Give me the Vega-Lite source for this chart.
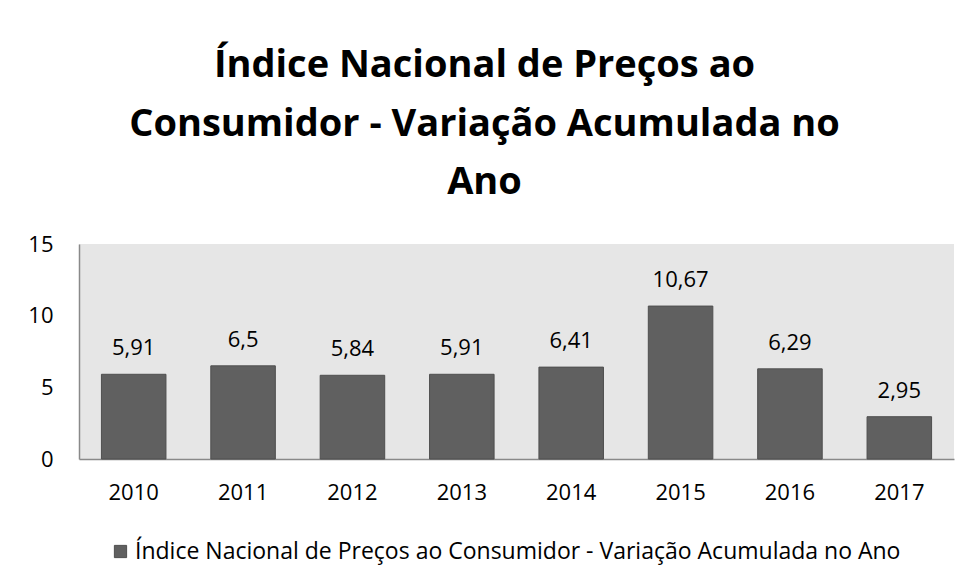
{
  "$schema": "https://vega.github.io/schema/vega-lite/v6.json",
  "autosize": "none",
  "width": 875,
  "height": 215,
  "padding": {"left": 79, "top": 244, "right": 15, "bottom": 125},
  "background": "white",
  "title": {
    "text": ["Índice Nacional de Preços ao", "Consumidor - Variação Acumulada no", "Ano"],
    "fontSize": 38,
    "font": "Open Sans",
    "fontWeight": "bold",
    "lineHeight": 58.5,
    "anchor": "middle",
    "dx": -32,
    "offset": 31,
    "color": "#000000"
  },
  "data": {
    "values": [
      {"ano": "2010", "valor": 5.91, "rotulo": "5,91", "serie": "Índice Nacional de Preços ao Consumidor - Variação Acumulada no Ano"},
      {"ano": "2011", "valor": 6.5, "rotulo": "6,5", "serie": "Índice Nacional de Preços ao Consumidor - Variação Acumulada no Ano"},
      {"ano": "2012", "valor": 5.84, "rotulo": "5,84", "serie": "Índice Nacional de Preços ao Consumidor - Variação Acumulada no Ano"},
      {"ano": "2013", "valor": 5.91, "rotulo": "5,91", "serie": "Índice Nacional de Preços ao Consumidor - Variação Acumulada no Ano"},
      {"ano": "2014", "valor": 6.41, "rotulo": "6,41", "serie": "Índice Nacional de Preços ao Consumidor - Variação Acumulada no Ano"},
      {"ano": "2015", "valor": 10.67, "rotulo": "10,67", "serie": "Índice Nacional de Preços ao Consumidor - Variação Acumulada no Ano"},
      {"ano": "2016", "valor": 6.29, "rotulo": "6,29", "serie": "Índice Nacional de Preços ao Consumidor - Variação Acumulada no Ano"},
      {"ano": "2017", "valor": 2.95, "rotulo": "2,95", "serie": "Índice Nacional de Preços ao Consumidor - Variação Acumulada no Ano"}
    ]
  },
  "encoding": {
    "x": {
      "field": "ano",
      "type": "nominal",
      "sort": null,
      "title": null,
      "scale": {"paddingInner": 0.41, "paddingOuter": 0.205},
      "axis": {
        "labelAngle": 0,
        "labelFontSize": 22,
        "labelFont": "Open Sans",
        "labelColor": "#000000",
        "labelPadding": 23,
        "ticks": false,
        "domainColor": "#898989",
        "domainWidth": 1.5
      }
    },
    "y": {
      "field": "valor",
      "type": "quantitative",
      "title": null,
      "scale": {"domain": [0, 15]},
      "axis": {
        "values": [0, 5, 10, 15],
        "labelFontSize": 22,
        "labelFont": "Open Sans",
        "labelColor": "#000000",
        "labelPadding": 26,
        "ticks": false,
        "grid": false,
        "domainColor": "#898989",
        "domainWidth": 1.5
      }
    }
  },
  "layer": [
    {
      "mark": {"type": "bar", "fill": "#606060", "stroke": "#4f4f4f", "strokeWidth": 1},
      "encoding": {
        "color": {
          "field": "serie",
          "type": "nominal",
          "scale": {"range": ["#606060"]},
          "legend": {
            "title": null,
            "orient": "none",
            "legendX": 30,
            "legendY": 296,
            "symbolType": "square",
            "symbolSize": 150,
            "symbolStrokeColor": "#4f4f4f",
            "symbolStrokeWidth": 1,
            "labelFontSize": 23,
            "labelFont": "Open Sans",
            "labelColor": "#000000",
            "labelLimit": 1000,
            "labelOffset": 3
          }
        }
      }
    },
    {
      "mark": {"type": "text", "dy": -26, "fontSize": 22, "font": "Open Sans", "color": "#000000", "baseline": "middle"},
      "encoding": {"text": {"field": "rotulo"}}
    }
  ],
  "config": {
    "view": {"fill": "#e6e6e6", "stroke": null}
  }
}
